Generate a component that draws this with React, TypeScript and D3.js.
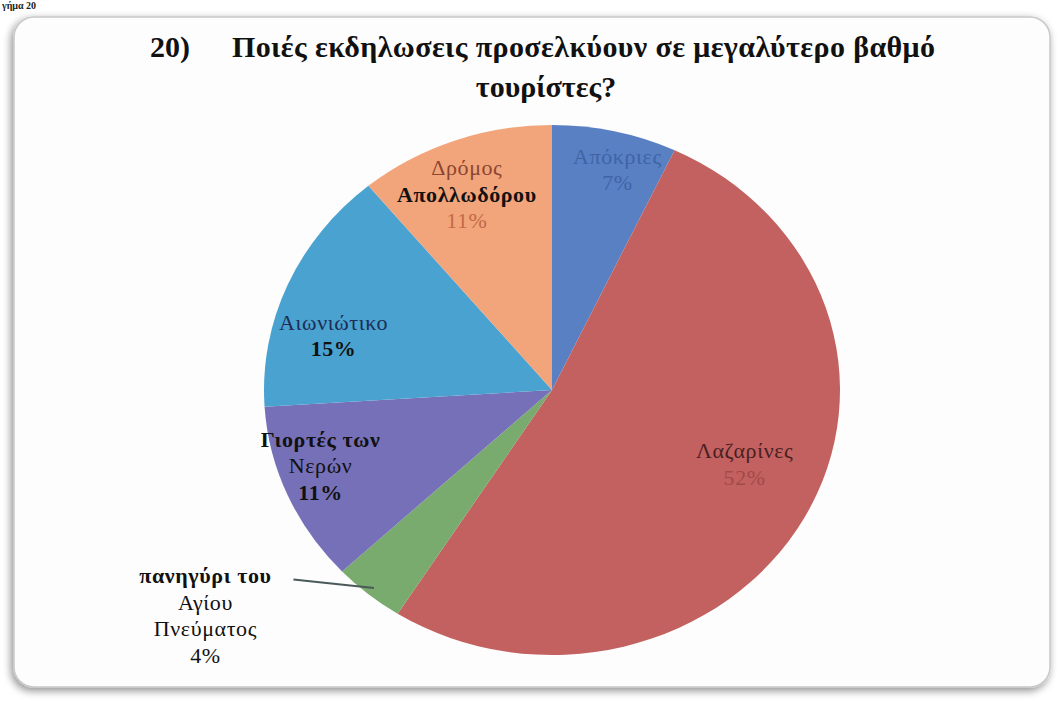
import React from "react";
import * as d3 from "d3";

const categories = [
  "Απόκριες",
  "Λαζαρίνες",
  "πανηγύρι του Αγίου Πνεύματος",
  "Γιορτές των Νερών",
  "Αιωνιώτικο",
  "Δρόμος Απολλωδόρου",
];
const values = [7, 52, 4, 11, 15, 11];
const colors = ["#5a80c4", "#c2615f", "#79aa6e", "#7670b8", "#4aa2d0", "#f2a47a"];

const titleLine1 = "Ποιές εκδηλωσεις προσελκύουν σε μεγαλύτερο βαθμό";
const titleLine2 = "τουρίστες?";
const titleNum = "20)";

type LabelLine = { text: string; bold?: boolean; color: string };
const labelLines: LabelLine[][] = [
  [
    { text: "Απόκριες", color: "#3f64a6" },
    { text: "7%", color: "#3f64a6" },
  ],
  [
    { text: "Λαζαρίνες", color: "#4a1f1f" },
    { text: "52%", color: "#a24a48" },
  ],
  [
    { text: "πανηγύρι του", bold: true, color: "#111" },
    { text: "Αγίου", color: "#111" },
    { text: "Πνεύματος", color: "#111" },
    { text: "4%", color: "#111" },
  ],
  [
    { text: "Γιορτές των", bold: true, color: "#111" },
    { text: "Νερών", color: "#111" },
    { text: "11%", bold: true, color: "#111" },
  ],
  [
    { text: "Αιωνιώτικο", color: "#1d2d55" },
    { text: "15%", bold: true, color: "#111" },
  ],
  [
    { text: "Δρόμος", color: "#8a4632" },
    { text: "Απολλωδόρου", bold: true, color: "#111" },
    { text: "11%", color: "#c26a48" },
  ],
];
// label placement: radius factor, pixel offsets
const labelLayout = [
  { f: 0.85, dx: 12, dy: 0 },
  { f: 0.7, dx: 16, dy: -15 },
  { f: 1.0, dx: -163, dy: 22 },
  { f: 0.8, dx: -20, dy: -8 },
  { f: 0.8, dx: -7, dy: 30 },
  { f: 0.75, dx: -12, dy: -8 },
];

export default function App() {
  const W = 1061;
  const H = 701;
  const cx = 552;
  const cy = 390;
  const rx = 288;
  const ry = 265;
  const pie = d3.pie<number>().sort(null).value((d) => d);
  const arcs = pie(values);
  const arc = d3.arc<d3.PieArcDatum<number>>().innerRadius(0).outerRadius(rx);
  const sy = ry / rx;
  const pt = (a: number, f: number) => [cx + rx * f * Math.sin(a), cy - ry * f * Math.cos(a)];
  const lineH = 26.5;
  const font = "'Liberation Serif', 'DejaVu Serif', serif";

  return (
    <svg width={W} height={H} style={{ position: "absolute", left: 0, top: 0 }} fontFamily={font}>
      <defs>
        <filter id="sh" x="-5%" y="-5%" width="110%" height="110%">
          <feGaussianBlur in="SourceAlpha" stdDeviation="4" />
          <feOffset dx="-2" dy="3" />
          <feComponentTransfer>
            <feFuncA type="linear" slope="0.45" />
          </feComponentTransfer>
          <feMerge>
            <feMergeNode />
            <feMergeNode in="SourceGraphic" />
          </feMerge>
        </filter>
      </defs>
      <rect width={W} height={H} fill="#ffffff" />
      <text x={2} y={9} fontSize={10} fontWeight="bold" fill="#222">γήμα 20</text>
      <rect x={14} y={17} width={1036} height={670} rx={20} fill="#fdfdfd" stroke="#c8c8c8" strokeWidth={1.5} filter="url(#sh)" />
      <text x={150} y={57} fontSize={30} fontWeight="bold" fill="#111">{titleNum}</text>
      <text x={232} y={57} fontSize={30} fontWeight="bold" fill="#111" textLength={703} lengthAdjust="spacing">{titleLine1}</text>
      <text x={546} y={97} fontSize={30} fontWeight="bold" fill="#111" textAnchor="middle">{titleLine2}</text>
      <g transform={`translate(${cx},${cy}) scale(1,${sy})`}>
        {arcs.map((a, i) => (
          <path key={i} d={arc(a) || ""} fill={colors[i]} />
        ))}
      </g>
      {arcs.map((a, i) => {
        const mid = (a.startAngle + a.endAngle) / 2;
        const [x0, y0] = pt(mid, labelLayout[i].f);
        const x = x0 + labelLayout[i].dx;
        const y = y0 + labelLayout[i].dy;
        const lines = labelLines[i];
        const top = y - ((lines.length - 1) * lineH) / 2 + 7;
        return (
          <g key={"l" + i}>
            {i === 2 && (
              <line
                x1={pt(mid, 0.97)[0]}
                y1={pt(mid, 0.97)[1]}
                x2={x + 88}
                y2={top - 4}
                stroke="#4a5a5a"
                strokeWidth={2}
              />
            )}
            <text textAnchor="middle" fontSize={22} letterSpacing={0.6}>
              {lines.map((l, j) => (
                <tspan key={j} x={x} y={top + j * lineH} fill={l.color} fontWeight={l.bold ? "bold" : "normal"}>
                  {l.text}
                </tspan>
              ))}
            </text>
          </g>
        );
      })}
    </svg>
  );
}
